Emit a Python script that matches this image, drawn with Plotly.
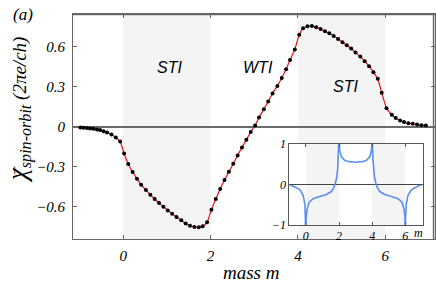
import plotly.graph_objects as go

# ---- main curve data (mass m, chi) ----
mass = [-0.98, -0.91, -0.83, -0.76, -0.68, -0.60, -0.53, -0.45, -0.37, -0.27, -0.17, -0.07,
        0.02, 0.115, 0.215, 0.314, 0.41, 0.52, 0.62, 0.72, 0.82, 0.92, 1.02, 1.12, 1.22, 1.33,
        1.43, 1.53, 1.63, 1.73, 1.82, 1.92, 2.02, 2.12, 2.22, 2.32, 2.42, 2.52, 2.62, 2.72, 2.82,
        2.92, 3.02, 3.11, 3.22, 3.32, 3.42, 3.53, 3.63, 3.73, 3.82, 3.93, 4.03, 4.12, 4.22, 4.32,
        4.42, 4.52, 4.62, 4.72, 4.82, 4.92, 5.02, 5.12, 5.22, 5.32, 5.43, 5.53, 5.63, 5.73, 5.83,
        5.92, 6.03, 6.15, 6.24, 6.34, 6.43, 6.53, 6.63, 6.73, 6.83, 6.93]
chi = [-0.008, -0.010, -0.012, -0.015, -0.017, -0.022, -0.027, -0.035, -0.045, -0.060, -0.082, -0.112,
       -0.203, -0.282, -0.342, -0.392, -0.437, -0.477, -0.512, -0.545, -0.575, -0.602, -0.630, -0.655,
       -0.680, -0.705, -0.728, -0.745, -0.755, -0.757, -0.750, -0.720, -0.625, -0.545, -0.470, -0.402,
       -0.340, -0.280, -0.217, -0.157, -0.100, -0.042, 0.008, 0.068, 0.130, 0.188, 0.248, 0.305, 0.365,
       0.430, 0.500, 0.578, 0.690, 0.738, 0.753, 0.755, 0.745, 0.733, 0.715, 0.700, 0.680, 0.658, 0.633,
       0.610, 0.585, 0.555, 0.525, 0.490, 0.453, 0.408, 0.358, 0.253, 0.138, 0.088, 0.063, 0.045, 0.033,
       0.025, 0.020, 0.015, 0.010, 0.008]

# ---- inset curve data ----
inset_m = [-1.0, -0.8, -0.6, -0.36, -0.16, -0.06, -0.02, 0.0, 0.02, 0.08, 0.2, 0.44, 0.84, 1.24,
           1.54, 1.68, 1.78, 1.86, 1.92, 1.96, 2.0, 2.04, 2.14, 2.34, 2.6, 3.0, 3.4, 3.66, 3.86,
           3.96, 4.0, 4.04, 4.08, 4.14, 4.22, 4.32, 4.46, 4.76, 5.16, 5.56, 5.8, 5.92, 5.98, 6.0,
           6.02, 6.06, 6.16, 6.36, 6.6, 6.8, 7.05]
inset_v = [0.0, -0.03, -0.07, -0.13, -0.27, -0.48, -0.8, -1.2, -0.8, -0.6, -0.436, -0.35, -0.296,
           -0.247, -0.173, -0.082, 0.033, 0.18, 0.387, 0.67, 1.2, 0.85, 0.69, 0.6, 0.565, 0.55,
           0.565, 0.6, 0.69, 0.85, 1.2, 0.67, 0.387, 0.18, 0.033, -0.082, -0.173, -0.247, -0.296,
           -0.35, -0.436, -0.6, -0.8, -1.2, -0.8, -0.48, -0.27, -0.13, -0.07, -0.03, 0.0]

sti_bands = [(0, 2), (4, 6)]
main_yticks = [-0.6, -0.3, 0, 0.3, 0.6]
main_yticktext = ["\u22120.6", "\u22120.3", "0", "0.3", "0.6"]
main_xticks = [0, 2, 4, 6]
inset_xticks = [0, 2, 4, 6]
inset_yticks = [-1, 0, 1]
inset_yticktext = ["\u22121", "0", "1"]
phase_labels = [("STI", 1.07, 0.44), ("WTI", 3.08, 0.44), ("STI", 5.08, 0.30)]

SERIF = "Liberation Serif, Times New Roman, DejaVu Serif, serif"
SANS = "Liberation Sans, Arial, sans-serif"
FRAME = "#666666"
SHADE = "#f4f4f4"

fig = go.Figure()

fig.add_trace(go.Scatter(
    x=mass, y=chi, mode="lines+markers",
    line=dict(color="#e8141c", width=1.2, shape="spline", smoothing=0.4),
    marker=dict(color="black", size=4),
    xaxis="x", yaxis="y", showlegend=False, hoverinfo="skip"))

fig.add_trace(go.Scatter(
    x=inset_m, y=inset_v, mode="lines",
    line=dict(color="#5b8ff0", width=1.6),
    xaxis="x2", yaxis="y2", showlegend=False, hoverinfo="skip", cliponaxis=True))

shapes = []
for a, b in sti_bands:
    shapes.append(dict(type="rect", xref="x", yref="y", x0=a, x1=b, y0=-0.845, y1=0.845,
                       fillcolor=SHADE, line=dict(width=0), layer="below"))
# white inset background (drawn in inset subplot layer)
shapes.append(dict(type="rect", xref="x2", yref="y2", x0=-1.0, x1=7.05, y0=-1, y1=1,
                   fillcolor="white", line=dict(width=0), layer="below"))
for a, b in sti_bands:
    shapes.append(dict(type="rect", xref="x2", yref="y2", x0=a, x1=b, y0=-1, y1=1,
                       fillcolor=SHADE, line=dict(width=0), layer="below"))
# main frame box (top and right sides)
shapes.append(dict(type="line", xref="paper", yref="paper", x0=0, x1=1, y0=0.998, y1=0.998,
                   line=dict(color=FRAME, width=1.5), layer="above"))
shapes.append(dict(type="line", xref="paper", yref="paper", x0=0.996, x1=0.996, y0=0, y1=1,
                   line=dict(color=FRAME, width=1.5), layer="above"))

annotations = []
for txt, xm, yv in phase_labels:
    annotations.append(dict(text=txt, x=xm, y=yv, xref="x", yref="y", showarrow=False,
                            xanchor="center", yanchor="middle",
                            font=dict(family=SANS, size=16, style="italic", color="black")))
annotations.append(dict(text="(a)", x=-0.137, y=0.998, xref="paper", yref="paper", showarrow=False,
                        xanchor="center", yanchor="middle",
                        font=dict(family=SERIF, size=17, style="italic", color="black")))
annotations.append(dict(text="mass m", x=0.492, y=-0.151, xref="paper", yref="paper", showarrow=False,
                        xanchor="center", yanchor="middle",
                        font=dict(family=SERIF, size=19, style="italic", color="black")))
annotations.append(dict(
    text="<span style='font-size:27px'>\u03c7</span><sub>spin-orbit</sub><span style='font-size:19px'> (2\u03c0e/ch)</span>",
    x=-0.152, y=0.573, xref="paper", yref="paper", showarrow=False, textangle=-90,
    xanchor="center", yanchor="middle",
    font=dict(family=SERIF, size=23, style="italic", color="black")))
annotations.append(dict(text="\u2212", x=-0.162, y=0.305, xref="paper", yref="paper", showarrow=False,
                        textangle=-90, xanchor="center", yanchor="middle",
                        font=dict(family=SERIF, size=16, color="black")))
annotations.append(dict(text="m", x=6.77, y=0.027, xref="x2", yref="paper", showarrow=False,
                        xanchor="center", yanchor="middle",
                        font=dict(family=SERIF, size=12, style="italic", color="black")))

fig.update_layout(
    width=436, height=285,
    margin=dict(l=73, r=1, t=14, b=46, autoexpand=False),
    paper_bgcolor="white", plot_bgcolor="white",
    font=dict(family=SERIF, size=14, color="black", style="italic"),
    shapes=shapes, annotations=annotations,
    xaxis=dict(range=[-1.15, 7.14], tickvals=main_xticks, ticks="inside", ticklen=4,
               tickcolor=FRAME, showline=True, linecolor=FRAME, linewidth=1, mirror="ticks",
               showgrid=False, zeroline=False, ticklabelstandoff=3, automargin=False,
               tickfont=dict(family=SERIF, size=15, style="italic")),
    yaxis=dict(range=[-0.845, 0.845], tickvals=main_yticks, ticktext=main_yticktext,
               ticks="inside", ticklen=4, tickcolor=FRAME, showline=True, linecolor=FRAME,
               linewidth=1, mirror="ticks", showgrid=False, zeroline=True, zerolinecolor="#6a6a6a",
               zerolinewidth=1.5, ticklabelstandoff=4, automargin=False,
               tickfont=dict(family=SERIF, size=15, style="italic")),
    xaxis2=dict(domain=[0.5975, 0.966], anchor="y2", range=[-1.0, 7.05], tickvals=inset_xticks,
                ticks="inside", ticklen=3, tickcolor="#555", showline=True, linecolor="#555",
                linewidth=1, mirror="ticks", showgrid=False, zeroline=False, ticklabelstandoff=0,
                automargin=False, tickfont=dict(family=SERIF, size=12, style="italic")),
    yaxis2=dict(domain=[0.062, 0.422], anchor="x2", range=[-1, 1], tickvals=inset_yticks,
                ticktext=inset_yticktext, ticks="inside", ticklen=3, tickcolor="#555",
                showline=True, linecolor="#555", linewidth=1, mirror="ticks", showgrid=False,
                zeroline=True, zerolinecolor="#444", zerolinewidth=1, ticklabelstandoff=0,
                automargin=False, tickfont=dict(family=SERIF, size=12, style="italic")),
)

fig.write_html("out.html", post_script="document.body.style.margin='0';",
               config={"displayModeBar": False})
